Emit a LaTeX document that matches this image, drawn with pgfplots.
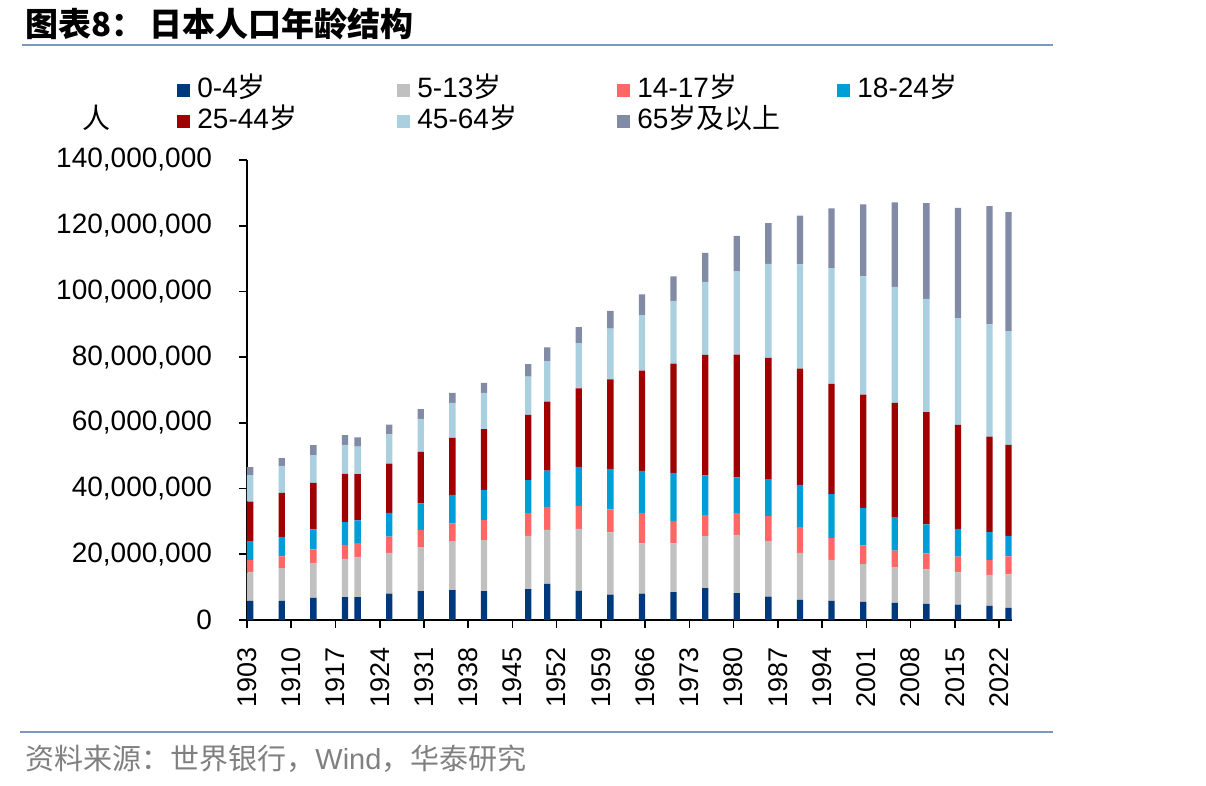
\documentclass[border=0pt]{standalone}
\usepackage{fontspec}
\setmainfont{Liberation Sans}
\newfontfamily\cjk{Noto Sans CJK SC}
\usepackage{pgfplots}
\usepackage{pgfplotstable}
\pgfplotsset{compat=1.18}

\definecolor{cA}{RGB}{0,56,124}
\definecolor{cB}{RGB}{192,192,192}
\definecolor{cC}{RGB}{255,102,102}
\definecolor{cD}{RGB}{0,158,215}
\definecolor{cE}{RGB}{160,0,0}
\definecolor{cF}{RGB}{170,208,224}
\definecolor{cG}{RGB}{129,139,165}
\definecolor{rule}{RGB}{122,152,192}
\definecolor{srcgray}{RGB}{128,128,128}

% population by age group (persons)
% a: 0-4, b: 5-13, c: 14-17, d: 18-24, e: 25-44, f: 45-64, g: 65+
\pgfplotstableread{
year a b c d e f g
1903 5800000 8700000 3800000 5700000 12000000 8100000 2400000
1908 5800000 10000000 3600000 5900000 13400000 8200000 2400000
1913 6700000 10700000 4100000 6100000 14100000 8500000 3000000
1918 7000000 11600000 4300000 6900000 14700000 8800000 3000000
1920 7000000 12200000 4200000 6900000 14100000 8400000 2800000
1925 8000000 12400000 5000000 7200000 15000000 8900000 3000000
1930 8800000 13400000 5200000 8100000 15700000 10000000 3000000
1935 9100000 14900000 5400000 8700000 17300000 10700000 3000000
1940 8800000 15500000 6100000 9200000 18500000 11000000 3100000
1947 9400000 16200000 6900000 10100000 19800000 11700000 3800000
1950 11000000 16400000 7000000 11100000 21000000 12300000 4200000
1955 8900000 18800000 7000000 11900000 23900000 13800000 4800000
1960 7700000 19000000 7000000 12300000 27200000 15500000 5400000
1965 8000000 15300000 9200000 12900000 30500000 16900000 6300000
1970 8500000 14800000 6900000 14600000 33200000 19100000 7500000
1975 9700000 15800000 6400000 12100000 36700000 22200000 8800000
1980 8200000 17700000 6600000 10900000 37400000 25400000 10700000
1985 7100000 16900000 7700000 11200000 36900000 28600000 12400000
1990 6100000 14300000 7900000 12800000 35400000 31700000 14900000
1995 5800000 12500000 6600000 13400000 33600000 35200000 18200000
2000 5500000 11500000 5700000 11400000 34500000 36000000 21900000
2005 5200000 10900000 5000000 10200000 34800000 35300000 25700000
2010 4900000 10500000 4900000 8800000 34200000 34400000 29200000
2015 4700000 9800000 4800000 8400000 31700000 32500000 33500000
2020 4300000 9400000 4600000 8500000 29000000 34200000 36000000
2023 3700000 10200000 5500000 6200000 27700000 34600000 36200000
}\popdata

\newcommand{\legcell}[1]{\makebox[100pt][l]{#1}}

\begin{document}
\begin{tikzpicture}
\path[use as bounding box] (0pt,0pt) rectangle (603pt,-393pt);

% heading and rules
\node[anchor=west, inner sep=0pt] at (12.5pt,-12pt)
  {\fontsize{16.5}{19}\selectfont\cjk\bfseries 图表8：\hspace{0.15em}日本人口年龄结构};
\draw[rule, line width=1.3pt] (11pt,-22.5pt) -- (526.5pt,-22.5pt);
\draw[rule, line width=1pt] (10pt,-366pt) -- (526.5pt,-366pt);
\node[anchor=west, inner sep=0pt, text=srcgray] at (12.5pt,-379.5pt)
  {\fontsize{14.5}{17}\selectfont{\cjk 资料来源：世界银行，}Wind{\cjk ，华泰研究}};
\node[inner sep=0pt] at (48.5pt,-59pt) {\fontsize{14}{16}\selectfont\cjk 人};

\begin{axis}[
  at={(123.5pt,-310pt)}, anchor=south west,
  scale only axis, width=382.5pt, height=230pt,
  ybar stacked, bar width=1,
  xmin=1902.5, xmax=2023.55,
  ymin=0, ymax=140000000,
  axis lines=left,
  axis line style={-, line width=0.9pt},
  tick align=outside,
  major tick length=4pt,
  tick style={line width=0.8pt, black},
  xtick={1902.5,1909.5,1916.5,1923.5,1930.5,1937.5,1944.5,1951.5,1958.5,1965.5,1972.5,1979.5,1986.5,1993.5,2000.5,2007.5,2014.5,2021.5},
  xticklabels={1903,1910,1917,1924,1931,1938,1945,1952,1959,1966,1973,1980,1987,1994,2001,2008,2015,2022},
  ytick={0,20000000,40000000,60000000,80000000,100000000,120000000,140000000},
  scaled y ticks=false,
  /pgf/number format/assume math mode=true,
  yticklabel style={font=\fontsize{14}{16}\selectfont,
    /pgf/number format/.cd, fixed, precision=0, 1000 sep={,}},
  xticklabel style={rotate=90, anchor=east, font=\fontsize{13.5}{16}\selectfont},
  xticklabel shift=6pt,
  yticklabel shift=10pt,
  legend columns=4,
  legend cell align=left,
  legend image code/.code={\fill[#1] (0pt,-3.25pt) rectangle (6.5pt,3.25pt);},
  legend style={draw=none, fill=none, at={(-0.0915,1.183)}, anchor=north west,
    font=\fontsize{14}{16}\selectfont, inner sep=0pt, row sep=1.5pt,
    nodes={inner sep=0pt, text height=10.5pt, text depth=3.5pt},
    /tikz/every odd column/.append style={column sep=3.5pt}},
]
\addplot[fill=cA, draw=none] table[x=year, y=a] {\popdata};
\addplot[fill=cB, draw=none] table[x=year, y=b] {\popdata};
\addplot[fill=cC, draw=none] table[x=year, y=c] {\popdata};
\addplot[fill=cD, draw=none] table[x=year, y=d] {\popdata};
\addplot[fill=cE, draw=none] table[x=year, y=e] {\popdata};
\addplot[fill=cF, draw=none] table[x=year, y=f] {\popdata};
\addplot[fill=cG, draw=none] table[x=year, y=g] {\popdata};
\legend{\legcell{0-4{\cjk 岁}}, \legcell{5-13{\cjk 岁}}, \legcell{14-17{\cjk 岁}}, \legcell{18-24{\cjk 岁}},
        \legcell{25-44{\cjk 岁}}, \legcell{45-64{\cjk 岁}}, \legcell{65{\cjk 岁及以上}}}
\end{axis}
\end{tikzpicture}
\end{document}
